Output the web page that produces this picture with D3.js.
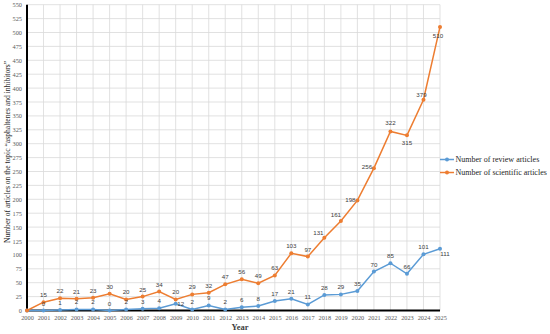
<!DOCTYPE html>
<html>
<head>
<meta charset="utf-8">
<script src="https://cdn.jsdelivr.net/npm/d3@7"></script>
<style>
  body { margin: 0; background: #fff; }
  svg { display: block; }
</style>
</head>
<body>
<script>

var years = d3.range(2000, 2026);

var review = [0, 0, 1, 2, 2, 0, 2, 3, 4, 12, 2, 9, 2, 6, 8, 17, 21, 11, 28, 29, 35, 70, 85, 66, 101, 111];

var scientific = [0, 15, 22, 21, 23, 30, 20, 25, 34, 20, 29, 32, 47, 56, 49, 63, 103, 97, 131, 161, 198, 256, 322, 315, 379, 510];

var yTicks = d3.range(0, 551, 25);

var seriesNames = ["Number of review articles", "Number of scientific articles"];

var colors = ["#5b9bd5", "#ed7d31"];

var size_graph = {x: 550, y: 334};

var x = d3.scaleLinear().domain([2000, 2025]).range([27, 440]);
var y = d3.scaleLinear().domain([0, 550]).range([310.5, 4.7]);

// label offsets that differ from "above the point"
var moved = {
  "1-2018": [-6, -3], "1-2019": [-5, -4], "1-2020": [-7, 2], "1-2021": [-7, 1],
  "1-2022": [0, -6], "1-2023": [0, 10], "1-2024": [-2, -3], "1-2025": [-2, 11],
  "0-2009": [5, 2], "0-2025": [5, 7], "0-2000": null, "1-2000": null
};

var svg = d3.select("body").append("svg")
    .attr("width", size_graph.x)
    .attr("height", size_graph.y);

// grid
svg.append("g").selectAll("line")
    .data(yTicks)
    .enter().append("line")
    .attr("x1", 27).attr("x2", 440)
    .attr("y1", d => y(d)).attr("y2", d => y(d))
    .attr("stroke", "#d9d9d9").attr("stroke-width", 0.8);

svg.append("g").selectAll("line")
    .data(years)
    .enter().append("line")
    .attr("x1", d => x(d)).attr("x2", d => x(d))
    .attr("y1", y(550)).attr("y2", y(0))
    .attr("stroke", "#d9d9d9").attr("stroke-width", 0.8);

// axes
var yAxis = d3.axisLeft(y).tickValues(yTicks).tickSize(0).tickPadding(5);
var gy = svg.append("g").attr("transform", "translate(27,0)").call(yAxis);
gy.select(".domain").remove();
gy.selectAll("text")
    .attr("font-family", "Liberation Serif, serif")
    .attr("font-size", 6.3)
    .attr("fill", "#595959");

var xAxis = d3.axisBottom(x).tickValues(years).tickFormat(d3.format("d")).tickSize(0).tickPadding(5);
var gx = svg.append("g").attr("transform", `translate(0,${y(0)})`).call(xAxis);
gx.select(".domain").remove();
gx.selectAll("text")
    .attr("font-family", "Liberation Serif, serif")
    .attr("font-size", 6.3)
    .attr("fill", "#595959");

svg.append("line")
    .attr("x1", 27).attr("x2", 440)
    .attr("y1", y(0)).attr("y2", y(0))
    .attr("stroke", "#000").attr("stroke-width", 2);

svg.append("line")
    .attr("x1", 27).attr("x2", 27)
    .attr("y1", y(550)).attr("y2", y(0) + 1)
    .attr("stroke", "#000").attr("stroke-width", 2);

// lines + markers
var line = d3.line()
    .x((d, i) => x(years[i]))
    .y(d => y(d));

[review, scientific].forEach(function(values, s) {
  svg.append("path")
      .datum(values)
      .attr("d", line)
      .attr("fill", "none")
      .attr("stroke", colors[s])
      .attr("stroke-width", 1.5);

  svg.append("g").selectAll("circle")
      .data(values)
      .enter().append("circle")
      .attr("cx", (d, i) => x(years[i]))
      .attr("cy", d => y(d))
      .attr("r", 2)
      .attr("fill", colors[s]);
});

[review, scientific].forEach(function(values, s) {
  svg.append("g").selectAll("text")
      .data(values.map((v, i) => ({v: v, year: years[i], key: s + "-" + years[i]}))
            .filter(d => moved[d.key] !== null))
      .enter().append("text")
      .attr("x", d => x(d.year) + (moved[d.key] ? moved[d.key][0] : 0))
      .attr("y", d => y(d.v) + (moved[d.key] ? moved[d.key][1] : -5))
      .attr("text-anchor", "middle")
      .attr("font-family", "Liberation Sans, sans-serif")
      .attr("font-size", 6.2)
      .attr("fill", "#404040")
      .text(d => d.v);
});

// axis titles
svg.append("text")
    .attr("x", 240).attr("y", 330)
    .attr("text-anchor", "middle")
    .attr("font-family", "Liberation Serif, serif")
    .attr("font-size", 8.5)
    .attr("font-weight", "bold")
    .attr("fill", "#404040")
    .text("Year");

svg.append("text")
    .attr("transform", "translate(10,152) rotate(-90)")
    .attr("text-anchor", "middle")
    .attr("font-family", "Liberation Serif, serif")
    .attr("font-size", 7.6)
    .attr("fill", "#262626")
    .text("Number of articles on the topic \u201casphaltenes and inhibitors\u201d");

// legend
var legend = svg.append("g").selectAll("g")
    .data(seriesNames)
    .enter().append("g")
    .attr("transform", (d, i) => `translate(440,${159.5 + i * 13})`);

legend.append("line")
    .attr("x1", 0).attr("x2", 14)
    .attr("stroke", (d, i) => colors[i])
    .attr("stroke-width", 1.5);

legend.append("circle")
    .attr("cx", 7).attr("r", 2)
    .attr("fill", (d, i) => colors[i]);

legend.append("text")
    .attr("x", 15.5).attr("y", 2.7)
    .attr("font-family", "Liberation Serif, serif")
    .attr("font-size", 8)
    .attr("fill", "#262626")
    .text(d => d);

</script>
</body>
</html>
